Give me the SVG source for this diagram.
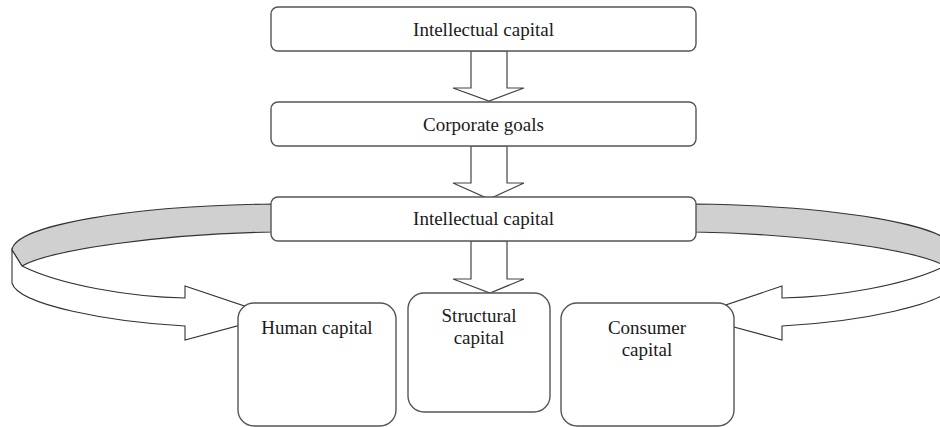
<svg xmlns="http://www.w3.org/2000/svg" width="940" height="427" viewBox="0 0 940 427">
<style>
.box{fill:#fff;stroke:#555;stroke-width:1.4}
.arr{fill:#fff;stroke:#444;stroke-width:1.2;stroke-linejoin:miter}
.band{fill:#d0d0d0;stroke:#333;stroke-width:1.1}
.rib{fill:#fff;stroke:#333;stroke-width:1.1}
text{font-family:"Liberation Serif","Times New Roman",serif;font-size:19px;fill:#1a1a1a;text-anchor:middle}
</style>
<rect width="940" height="427" fill="#fff"/>
<g id="connectors">
  <polygon class="arr" points="471,51 507,51 507,88 524,88 489,101 453,88 471,88"/>
  <polygon class="arr" points="471,146 507,146 507,183 524,183 489,199 453,183 471,183"/>
  <polygon class="arr" points="471,241 507,241 507,279 524,279 490,293 453,279 471,279"/>
  <g id="left-curve">
    <path class="band" d="M272,204 C130,206 15,225 12,250 L22,266 C50,250 160,234 272,232 Z"/>
    <path class="rib" d="M12,250 L22,266 C60,285 130,297 185,298 L185,286 L274,316 L185,340 L185,326 C110,322 18,305 12,283 Z"/>
  </g>
  <g id="right-curve" transform="translate(967,0) scale(-1,1)">
    <path class="band" d="M272,204 C130,206 15,225 12,250 L22,266 C50,250 160,234 272,232 Z"/>
    <path class="rib" d="M12,250 L22,266 C60,285 130,297 185,298 L185,286 L274,316 L185,340 L185,326 C110,322 18,305 12,283 Z"/>
  </g>
</g>
<g id="n1"><rect class="box" x="271" y="7" width="425" height="44" rx="7"/><text x="483.5" y="36">Intellectual capital</text></g>
<g id="n2"><rect class="box" x="271" y="102" width="425" height="44" rx="7"/><text x="483.5" y="131">Corporate goals</text></g>
<g id="n3"><rect class="box" x="271" y="197" width="425" height="44" rx="7"/><text x="483.5" y="225">Intellectual capital</text></g>
<g id="n4"><rect class="box" x="238" y="303" width="158" height="123" rx="16"/><text x="317" y="334">Human capital</text></g>
<g id="n5"><rect class="box" x="408" y="293" width="142" height="119" rx="16"/><text x="479" y="322">Structural</text><text x="479" y="344">capital</text></g>
<g id="n6"><rect class="box" x="561" y="303" width="173" height="123" rx="16"/><text x="647" y="334">Consumer</text><text x="647" y="356">capital</text></g>
</svg>
